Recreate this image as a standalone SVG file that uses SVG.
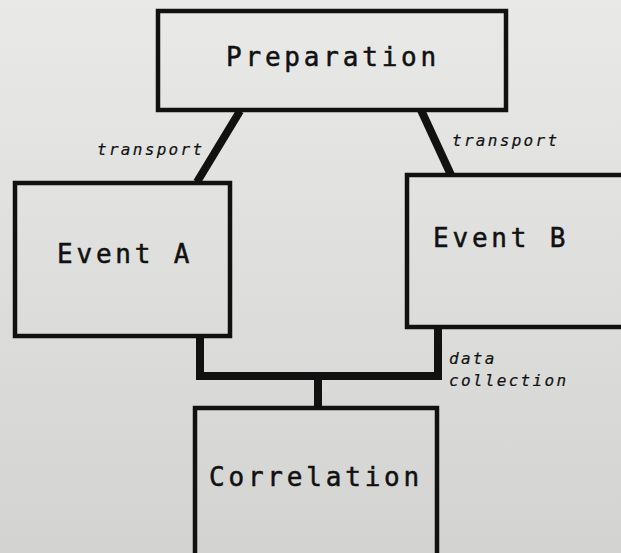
<svg xmlns="http://www.w3.org/2000/svg" width="621" height="553" viewBox="0 0 621 553">
<defs>
<linearGradient id="bg" x1="0" y1="0" x2="0" y2="1">
<stop offset="0" stop-color="#e9eae8"/>
<stop offset="1" stop-color="#d3d4d2"/>
</linearGradient>
<style>
.box{fill:none;stroke:#111;stroke-width:4.5}
.conn{fill:none;stroke:#111;stroke-width:8;stroke-linejoin:miter}
.title{font-family:"DejaVu Sans Mono","Liberation Mono",monospace;font-size:26px;letter-spacing:3.8px;fill:#111;stroke:#111;stroke-width:0.5}
.lbl{font-family:"DejaVu Sans Mono","Liberation Mono",monospace;font-size:16px;font-style:italic;letter-spacing:2.3px;fill:#111;stroke:#111;stroke-width:0.2}
</style>
</defs>
<rect width="621" height="553" fill="url(#bg)"/>
<g id="connectors">
<line class="conn" x1="240" y1="111" x2="197" y2="182"/>
<line class="conn" x1="421" y1="110" x2="451" y2="175"/>
<polyline class="conn" points="200,336 200,376 438,376 438,327"/>
<line class="conn" x1="318" y1="376" x2="318" y2="407"/>
</g>
<g id="preparation">
<rect class="box" x="158" y="11" width="348" height="99"/>
<text class="title" x="226" y="66">Preparation</text>
</g>
<g id="eventA">
<rect class="box" x="15" y="183" width="215" height="153"/>
<text class="title" x="57" y="263">Event A</text>
</g>
<g id="eventB">
<rect class="box" x="407" y="175" width="230" height="152"/>
<text class="title" x="433" y="247">Event B</text>
</g>
<g id="correlation">
<rect class="box" x="195" y="408" width="242" height="160"/>
<text class="title" x="209" y="486">Correlation</text>
</g>
<g id="labels">
<text class="lbl" x="97" y="155">transport</text>
<text class="lbl" x="452" y="146">transport</text>
<text class="lbl" x="449" y="364">data</text>
<text class="lbl" x="449" y="386">collection</text>
</g>
</svg>
